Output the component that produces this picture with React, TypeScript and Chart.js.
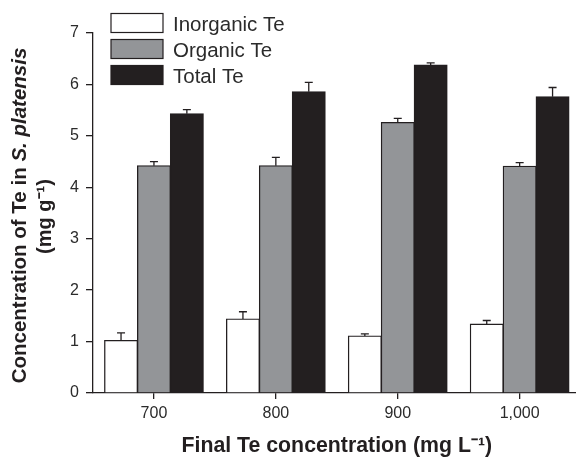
import React, { useEffect, useRef } from "react";
import { Chart, registerables } from "chart.js";

Chart.register(...registerables);

const categories = ["700", "800", "900", "1,000"];
const seriesLabels = ["Inorganic Te", "Organic Te", "Total Te"];
const inorganic = [1.02, 1.44, 1.11, 1.34];
const inorganicErr = [0.15, 0.14, 0.04, 0.07];
const organic = [4.42, 4.42, 5.26, 4.41];
const organicErr = [0.08, 0.16, 0.08, 0.07];
const total = [5.43, 5.86, 6.38, 5.76];
const totalErr = [0.08, 0.18, 0.04, 0.18];
const yMin = 0;
const yMax = 7;
const yStep = 1;
const xTitle = "Final Te concentration (mg L\u207B\u00B9)";
const yTitleMain = "Concentration of Te in ";
const yTitleItalic = "S. platensis";
const yTitleUnit = "(mg g\u207B\u00B9)";

const FONT = "'Liberation Sans', Arial, sans-serif";
const INK = "#231f20";
const TEXT = "#2b2b2b";
const fills = ["#ffffff", "#939598", "#231f20"];
const errors = [inorganicErr, organicErr, totalErr];

const errorBarPlugin = {
  id: "errorBars",
  afterDatasetsDraw(chart: any) {
    const ctx = chart.ctx;
    const yScale = chart.scales.y;
    ctx.save();
    ctx.strokeStyle = INK;
    ctx.lineWidth = 1.3;
    chart.data.datasets.forEach((ds: any, i: number) => {
      const meta = chart.getDatasetMeta(i);
      meta.data.forEach((bar: any, j: number) => {
        const v = ds.data[j];
        const e = errors[i][j];
        const yTop = yScale.getPixelForValue(v + e);
        const x = bar.x;
        ctx.beginPath();
        ctx.moveTo(x, bar.y);
        ctx.lineTo(x, yTop);
        ctx.moveTo(x - 4, yTop);
        ctx.lineTo(x + 4, yTop);
        ctx.stroke();
      });
    });
    ctx.restore();
  },
};

const legendPlugin = {
  id: "customLegend",
  afterDraw(chart: any) {
    const ctx = chart.ctx;
    ctx.save();
    chart.data.datasets.forEach((ds: any, i: number) => {
      const bx = 111;
      const by = 13.5 + i * 26;
      const bw = 52;
      const bh = 19;
      ctx.fillStyle = ds.backgroundColor;
      ctx.fillRect(bx, by, bw, bh);
      ctx.strokeStyle = INK;
      ctx.lineWidth = 1.2;
      ctx.strokeRect(bx, by, bw, bh);
      ctx.fillStyle = TEXT;
      ctx.font = `20.5px ${FONT}`;
      ctx.textBaseline = "alphabetic";
      ctx.textAlign = "left";
      ctx.fillText(ds.label, 173, by + 17);
    });
    ctx.restore();
  },
};

const yTitlePlugin = {
  id: "yTitle",
  afterDraw(chart: any) {
    const ctx = chart.ctx;
    const area = chart.chartArea;
    const cy = (area.top + area.bottom) / 2 + 2.5;
    ctx.save();
    ctx.fillStyle = INK;
    ctx.textBaseline = "alphabetic";
    ctx.textAlign = "left";
    ctx.save();
    ctx.translate(26, cy);
    ctx.rotate(-Math.PI / 2);
    const f1 = `bold 20.5px ${FONT}`;
    const f2 = `italic bold 20.5px ${FONT}`;
    ctx.font = f1;
    const w1 = ctx.measureText(yTitleMain).width;
    ctx.font = f2;
    const w2 = ctx.measureText(yTitleItalic).width;
    const start = -(w1 + w2) / 2;
    ctx.font = f1;
    ctx.fillText(yTitleMain, start, 0);
    ctx.font = f2;
    ctx.fillText(yTitleItalic, start + w1, 0);
    ctx.restore();
    ctx.save();
    ctx.translate(51, cy + 1);
    ctx.rotate(-Math.PI / 2);
    ctx.font = `bold 20px ${FONT}`;
    ctx.textAlign = "center";
    ctx.fillText(yTitleUnit, 0, 0);
    ctx.restore();
    ctx.restore();
  },
};

export default function App() {
  const canvasRef = useRef<HTMLCanvasElement | null>(null);

  useEffect(() => {
    if (!canvasRef.current) return;
    const seriesData = [inorganic, organic, total];
    const chart = new Chart(canvasRef.current, {
      type: "bar",
      data: {
        labels: categories,
        datasets: seriesLabels.map((label, i) => ({
          label,
          data: seriesData[i],
          backgroundColor: fills[i],
          borderColor: INK,
          borderWidth: 1.3,
          borderSkipped: "bottom",
          inflateAmount: 0.5,
          categoryPercentage: 0.81,
          barPercentage: 1.0,
        })),
      },
      options: {
        animation: false,
        responsive: true,
        maintainAspectRatio: false,
        layout: { padding: { top: 33, right: 11.4, left: 0, bottom: 0 } },
        plugins: {
          legend: { display: false },
          tooltip: { enabled: false },
        },
        scales: {
          x: {
            type: "category",
            grid: {
              display: true,
              drawOnChartArea: false,
              drawTicks: true,
              tickLength: 6,
              offset: false,
              color: INK,
              lineWidth: 1.3,
            },
            border: { display: true, color: INK, width: 1.3 },
            ticks: {
              color: TEXT,
              font: { family: FONT, size: 16 },
              padding: 5,
              maxRotation: 0,
            },
            title: {
              display: true,
              text: xTitle,
              color: INK,
              font: { family: FONT, size: 21.3, weight: "bold" },
              padding: { top: 0, bottom: 0 },
            },
            afterFit(scale: any) {
              scale.height = 66;
            },
          },
          y: {
            min: yMin,
            max: yMax,
            grid: {
              display: true,
              drawOnChartArea: false,
              drawTicks: true,
              tickLength: 7,
              color: INK,
              lineWidth: 1.3,
            },
            border: { display: true, color: INK, width: 1.3 },
            ticks: {
              stepSize: yStep,
              color: TEXT,
              font: { family: FONT, size: 16 },
              padding: 7,
            },
            afterFit(scale: any) {
              scale.width = 93;
            },
          },
        },
      },
      plugins: [errorBarPlugin, legendPlugin, yTitlePlugin],
    } as any);
    return () => chart.destroy();
  }, []);

  return (
    <div
      style={{
        position: "absolute",
        left: 0,
        top: 0,
        width: 576,
        height: 459,
        overflow: "hidden",
        background: "#fff",
      }}
    >
      <div style={{ position: "relative", width: 592, height: 459 }}>
        <canvas ref={canvasRef} />
      </div>
    </div>
  );
}
